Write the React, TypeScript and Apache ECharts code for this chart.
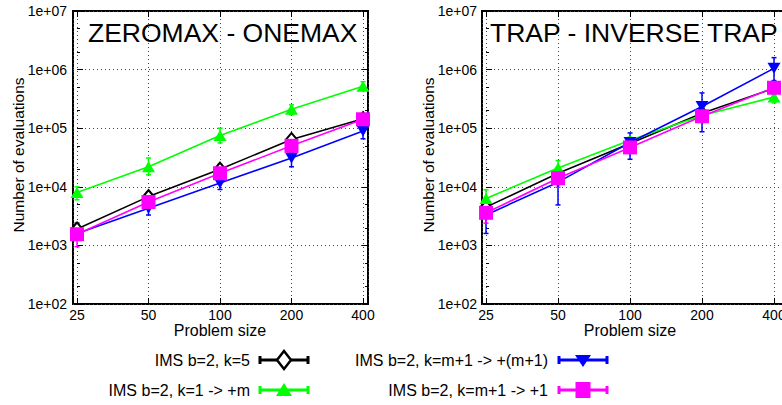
import React, { useEffect, useRef } from 'react';
import * as echarts from 'echarts';

const problemSizes = ['25', '50', '100', '200', '400'];
const yTickLabels = ['1e+02', '1e+03', '1e+04', '1e+05', '1e+06', '1e+07'];
const minorTickValues = [200, 500, 2000, 5000, 20000, 50000, 200000, 500000, 2000000, 5000000];
const panelTitles = ['ZEROMAX - ONEMAX', 'TRAP - INVERSE TRAP'];
const seriesNames = ['IMS b=2, k=5', 'IMS b=2, k=1 -> +m', 'IMS b=2, k=m+1 -> +(m+1)', 'IMS b=2, k=m+1 -> +1'];
const seriesColors = ['#000000', '#00ff00', '#0000ff', '#ff00ff'];

// ZEROMAX - ONEMAX
const zoK5 = [1900, 6800, 20000, 64000, 145000];
const zoK5Low = [1600, 5700, 17000, 57000, 130000];
const zoK5High = [2400, 8200, 24000, 74000, 162000];
const zoK1 = [8000, 22000, 75000, 210000, 520000];
const zoK1Low = [6000, 16000, 56000, 170000, 450000];
const zoK1High = [10000, 31000, 100000, 250000, 620000];
const zoKm1m1 = [1600, 4300, 11600, 31000, 90000];
const zoKm1m1Low = [1300, 3300, 9000, 22000, 66000];
const zoKm1m1High = [2000, 4900, 13000, 38000, 105000];
const zoKm1p1 = [1550, 5500, 17000, 50000, 142000];
const zoKm1p1Low = [950, 4600, 15000, 43000, 120000];
const zoKm1p1High = [2200, 6500, 20000, 58000, 165000];

// TRAP - INVERSE TRAP
const trK5 = [4500, 17000, 55000, 180000, 480000];
const trK5Low = [3500, 14000, 45000, 150000, 420000];
const trK5High = [5500, 20000, 65000, 210000, 540000];
const trK1 = [6300, 21000, 62000, 165000, 340000];
const trK1Low = [4900, 19000, 55000, 150000, 270000];
const trK1High = [8900, 28000, 70000, 180000, 370000];
const trKm1m1 = [3300, 12000, 57000, 235000, 1050000];
const trKm1m1Low = [1600, 4900, 29500, 87000, 650000];
const trKm1m1High = [4900, 15000, 83000, 400000, 1600000];
const trKm1p1 = [3600, 14000, 47000, 160000, 490000];
const trKm1p1Low = [2400, 9800, 40000, 140000, 430000];
const trKm1p1High = [4900, 19000, 55000, 180000, 560000];

const FONT = '"Liberation Sans", Arial, Helvetica, sans-serif';

const panels = [
  {
    values: [zoK5, zoK1, zoKm1m1, zoKm1p1],
    lows: [zoK5Low, zoK1Low, zoKm1m1Low, zoKm1p1Low],
    highs: [zoK5High, zoK1High, zoKm1m1High, zoKm1p1High],
  },
  {
    values: [trK5, trK1, trKm1m1, trKm1p1],
    lows: [trK5Low, trK1Low, trKm1m1Low, trKm1p1Low],
    highs: [trK5High, trK1High, trKm1m1High, trKm1p1High],
  },
];

const symbols: any[] = [
  { symbol: 'emptyDiamond', size: [11, 13], rotate: 0 },
  { symbol: 'triangle', size: [13, 11], rotate: 0 },
  { symbol: 'triangle', size: [13, 11], rotate: 180 },
  { symbol: 'rect', size: [14, 14], rotate: 0 },
];

function xLabel(v: number) {
  if (Math.abs(v - Math.round(v)) > 1e-6) return '';
  return problemSizes[Math.round(v)] ?? '';
}
function yLabel(v: number) {
  const e = Math.round(Math.log10(v));
  if (Math.abs(Math.log10(v) - e) > 1e-6) return '';
  return yTickLabels[e - 2] ?? '';
}

function makeXAxes(grid: number, min: number, max: number) {
  const common = {
    gridIndex: grid,
    type: 'value',
    min,
    max,
    minInterval: 1,
    maxInterval: 1,
    axisLine: { show: false },
  };
  return [
    {
      ...common,
      position: 'bottom',
      axisTick: { inside: true, length: 6, lineStyle: { color: '#000', width: 1 } },
      axisLabel: {
        formatter: xLabel,
        color: '#000',
        fontFamily: FONT,
        fontSize: 14,
        margin: 4,
        showMinLabel: true,
        showMaxLabel: true,
        hideOverlap: false,
      },
      splitLine: { show: true, lineStyle: { color: '#444', type: [1, 3], width: 1 } },
    },
    {
      ...common,
      position: 'top',
      axisTick: { inside: true, length: 6, lineStyle: { color: '#000', width: 1 } },
      axisLabel: { show: false },
      splitLine: { show: false },
    },
  ];
}

function makeYAxes(grid: number, withRight: boolean, labelMargin: number) {
  const common = {
    gridIndex: grid,
    type: 'log',
    logBase: 10,
    min: 100,
    max: 10000000,
    axisLine: { show: false },
  };
  const list: any[] = [
    {
      ...common,
      position: 'left',
      axisTick: { inside: true, length: 6, lineStyle: { color: '#000', width: 1 } },
      axisLabel: { formatter: yLabel, color: '#000', fontFamily: FONT, fontSize: 14, margin: labelMargin },
      splitLine: { show: true, lineStyle: { color: '#444', type: [1, 3], width: 1 } },
    },
    {
      ...common,
      position: 'left',
      axisTick: { inside: true, length: 3, customValues: minorTickValues, lineStyle: { color: '#000', width: 1 } },
      axisLabel: { show: false },
      splitLine: { show: false },
    },
  ];
  if (withRight) {
    list.push(
      {
        ...common,
        position: 'right',
        axisTick: { inside: true, length: 6, lineStyle: { color: '#000', width: 1 } },
        axisLabel: { show: false },
        splitLine: { show: false },
      },
      {
        ...common,
        position: 'right',
        axisTick: { inside: true, length: 3, customValues: minorTickValues, lineStyle: { color: '#000', width: 1 } },
        axisLabel: { show: false },
        splitLine: { show: false },
      }
    );
  }
  return list;
}

function errorSeries(name: string, low: number[], high: number[], color: string, xi: number, yi: number) {
  return {
    type: 'custom',
    name: name + ' err',
    xAxisIndex: xi,
    yAxisIndex: yi,
    silent: true,
    clip: false,
    data: problemSizes.map((_, i) => [i, low[i], high[i]]),
    encode: { x: 0, y: [1, 2] },
    renderItem: (params: any, api: any) => {
      const x = api.value(0);
      const a = api.coord([x, api.value(1)]);
      const b = api.coord([x, api.value(2)]);
      const w = 2.5;
      const st = { stroke: color, lineWidth: 1.5 };
      return {
        type: 'group',
        children: [
          { type: 'line', shape: { x1: a[0], y1: a[1], x2: b[0], y2: b[1] }, style: st },
          { type: 'line', shape: { x1: a[0] - w, y1: a[1], x2: a[0] + w, y2: a[1] }, style: st },
          { type: 'line', shape: { x1: b[0] - w, y1: b[1], x2: b[0] + w, y2: b[1] }, style: st },
        ],
      };
    },
  };
}

function lineSeries(name: string, vals: number[], s: number, xi: number, yi: number) {
  const color = seriesColors[s];
  return {
    type: 'line',
    name,
    xAxisIndex: xi,
    yAxisIndex: yi,
    data: problemSizes.map((_, i) => [i, vals[i]]),
    symbol: symbols[s].symbol,
    symbolSize: symbols[s].size,
    symbolRotate: symbols[s].rotate,
    showAllSymbol: true,
    lineStyle: { color, width: 1.6 },
    itemStyle: { color, borderColor: color, borderWidth: s === 0 ? 1.6 : 0 },
    emphasis: { disabled: true },
  };
}

function legendGraphics() {
  const items: any[] = [];
  const entries = [
    { s: 0, textRight: 250, lineX: 260, y: 360 },
    { s: 1, textRight: 250, lineX: 260, y: 390 },
    { s: 2, textRight: 548, lineX: 559, y: 360 },
    { s: 3, textRight: 548, lineX: 559, y: 390 },
  ];
  for (const e of entries) {
    const color = seriesColors[e.s];
    const x1 = e.lineX;
    const x2 = e.lineX + 48;
    const cx = (x1 + x2) / 2;
    const st = { stroke: color, lineWidth: 3 };
    items.push({
      type: 'text',
      x: e.textRight,
      y: e.y,
      style: {
        text: seriesNames[e.s],
        fill: '#000',
        font: `16px ${FONT}`,
        textAlign: 'right',
        textVerticalAlign: 'middle',
      },
    });
    items.push({ type: 'line', shape: { x1, y1: e.y, x2, y2: e.y }, style: st });
    items.push({ type: 'line', shape: { x1, y1: e.y - 4, x2: x1, y2: e.y + 4 }, style: st });
    items.push({ type: 'line', shape: { x1: x2, y1: e.y - 4, x2, y2: e.y + 4 }, style: st });
    if (e.s === 0) {
      items.push({
        type: 'polygon',
        shape: { points: [[cx, e.y - 9], [cx + 7, e.y], [cx, e.y + 9], [cx - 7, e.y]] },
        style: { fill: '#fff', stroke: color, lineWidth: 2.5 },
      });
    } else if (e.s === 1) {
      items.push({
        type: 'polygon',
        shape: { points: [[cx, e.y - 7], [cx + 8, e.y + 6], [cx - 8, e.y + 6]] },
        style: { fill: color },
      });
    } else if (e.s === 2) {
      items.push({
        type: 'polygon',
        shape: { points: [[cx, e.y + 7], [cx + 8, e.y - 5], [cx - 8, e.y - 5]] },
        style: { fill: color },
      });
    } else {
      items.push({
        type: 'rect',
        shape: { x: cx - 7.5, y: e.y - 8, width: 15, height: 16 },
        style: { fill: color },
      });
    }
  }
  return items;
}

export default function App() {
  const ref = useRef<HTMLDivElement>(null);
  useEffect(() => {
    if (!ref.current) return;
    const chart = echarts.init(ref.current, null, { renderer: 'svg' });

    const xAxes = [...makeXAxes(0, -0.056, 4.07), ...makeXAxes(1, -0.056, 4.25)];
    const yAxesLeft = makeYAxes(0, true, 6);
    const yAxesRight = makeYAxes(1, false, 5);
    const yAxes = [...yAxesLeft, ...yAxesRight];
    const yMainIndex = [0, yAxesLeft.length];
    const xMainIndex = [0, 2];

    const series: any[] = [];
    panels.forEach((p, pi) => {
      for (let s = 0; s < 4; s++) {
        series.push(errorSeries(seriesNames[s], p.lows[s], p.highs[s], seriesColors[s], xMainIndex[pi], yMainIndex[pi]));
        series.push(lineSeries(seriesNames[s], p.values[s], s, xMainIndex[pi], yMainIndex[pi]));
      }
    });

    const graphic: any[] = [
      {
        type: 'text',
        x: 88,
        y: 33,
        style: { text: panelTitles[0], fill: '#000', font: `26.5px ${FONT}`, textVerticalAlign: 'middle' },
        z: 10,
      },
      {
        type: 'text',
        x: 490,
        y: 33,
        style: { text: panelTitles[1], fill: '#000', font: `26.5px ${FONT}`, textVerticalAlign: 'middle' },
        z: 10,
      },
      {
        type: 'text',
        x: 220,
        y: 330,
        style: { text: 'Problem size', fill: '#000', font: `16px ${FONT}`, textAlign: 'center', textVerticalAlign: 'middle' },
      },
      {
        type: 'text',
        x: 630,
        y: 330,
        style: { text: 'Problem size', fill: '#000', font: `16px ${FONT}`, textAlign: 'center', textVerticalAlign: 'middle' },
      },
      {
        type: 'text',
        x: 18,
        y: 155,
        rotation: Math.PI / 2,
        style: { text: 'Number of evaluations', fill: '#000', font: `15.5px ${FONT}`, textAlign: 'center', textVerticalAlign: 'middle' },
      },
      {
        type: 'text',
        x: 428,
        y: 155,
        rotation: Math.PI / 2,
        style: { text: 'Number of evaluations', fill: '#000', font: `15.5px ${FONT}`, textAlign: 'center', textVerticalAlign: 'middle' },
      },
      ...legendGraphics(),
    ];

    chart.setOption({
      animation: false,
      backgroundColor: '#fff',
      grid: [
        { left: 73, top: 11, width: 295, height: 293, show: true, borderColor: '#000', borderWidth: 2, containLabel: false, outerBoundsMode: 'none' },
        { left: 482, top: 11, width: 310, height: 293, show: true, borderColor: '#000', borderWidth: 2, containLabel: false, outerBoundsMode: 'none' },
      ],
      xAxis: xAxes,
      yAxis: yAxes,
      series,
      graphic,
    });
    return () => chart.dispose();
  }, []);
  return <div ref={ref} style={{ position: 'fixed', left: 0, top: 0, width: 782, height: 405 }} />;
}
